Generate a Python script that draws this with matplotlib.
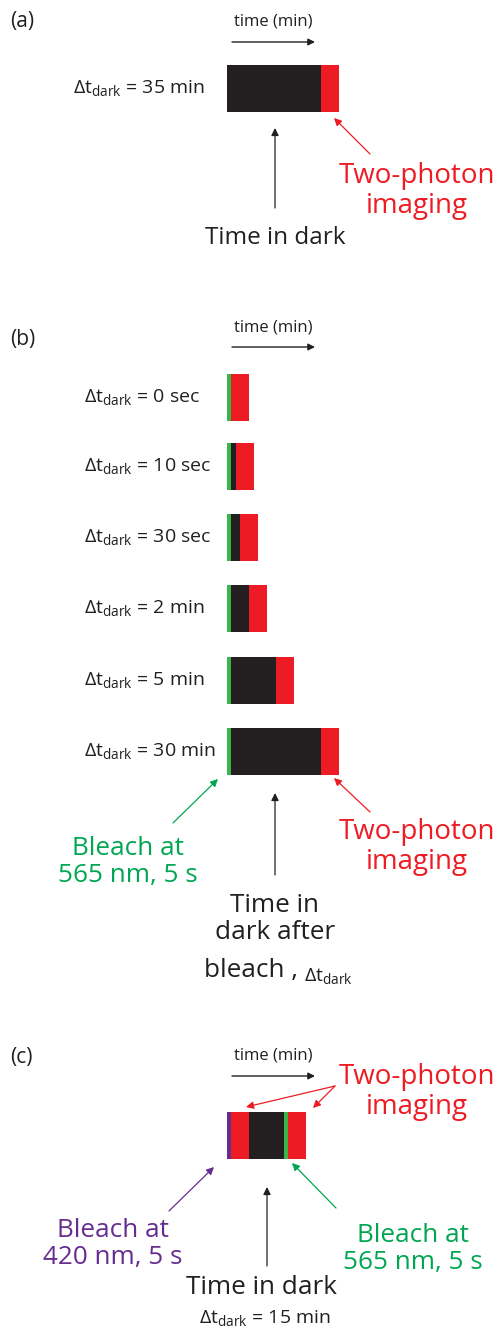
#!/usr/bin/env python3
"""Schematic of dark-time / bleach / two-photon imaging protocols (a)-(c)."""

import numpy as np
import matplotlib
matplotlib.use('Agg')
import matplotlib.pyplot as plt

plt.rcParams['font.family'] = ['Open Sans', 'DejaVu Sans']
plt.rcParams['mathtext.fontset'] = 'custom'
plt.rcParams['mathtext.rm'] = 'Open Sans'
plt.rcParams['mathtext.it'] = 'Open Sans'

BLACK = '#231f20'
RED = '#ed1c24'
GREEN_BAR = '#39b54a'
GREEN_TXT = '#00a651'
PURPLE = '#662d91'
SEG_COLORS = {'dark': BLACK, 'img': RED, 'g': GREEN_BAR, 'p': PURPLE}

# schematic widths of each step on the time axis (not to scale)
bleach_w = 4.3
imaging_w = 18
a_dark_w = 94
b_labels = ['0 sec', '10 sec', '30 sec', '2 min', '5 min', '30 min']
b_dark_w = [0, 4.5, 9, 18, 44.5, 90]
c_steps = ['p', 'img', 'dark', 'g', 'img']
c_widths = [4.3, 18, 35, 4, 18]

fig = plt.figure(figsize=(4.95, 13.3), dpi=100)
ax = fig.add_axes([0, 0, 1, 1])
ax.set_xlim(0, 495)
ax.set_ylim(1330, 0)
ax.axis('off')

X0 = 227
BAR_H = 47
BIG = 18.8
LBL = 14


def draw_bar(yc, steps, widths):
    left = X0
    for s, w in zip(steps, widths):
        if w > 0:
            ax.barh(yc, w, left=left, height=BAR_H, color=SEG_COLORS[s], linewidth=0)
        left += w


def arrow(x0, y0, x1, y1, color=BLACK, lw=0.9, ms=11):
    ax.annotate('', xy=(x1, y1), xytext=(x0, y0),
                arrowprops=dict(arrowstyle='-|>', color=color, lw=lw,
                                mutation_scale=ms, shrinkA=0, shrinkB=0))


def time_axis(y_txt, y_arr):
    ax.text(273, y_txt, 'time (min)', ha='center', va='center', fontsize=12, color=BLACK)
    arrow(232, y_arr, 315, y_arr, lw=1.0, ms=10)


def dt_label(x, y, value, ha='left', size=LBL):
    s = r'Δt$_\mathregular{dark}$'
    if value:
        s += ' = ' + value
    ax.text(x, y, s, ha=ha, va='center', fontsize=size, color=BLACK)


# ---- panel (a)
ax.text(10, 21, '(a)', ha='left', va='center', fontsize=15, color=BLACK)
time_axis(22, 42)
draw_bar(88, ['dark', 'img'], [a_dark_w, imaging_w])
dt_label(205, 88, '35 min', ha='right')
arrow(275, 208, 275, 128)
arrow(370, 154, 334, 118, color=RED)
ax.text(417, 191, 'Two-photon\nimaging', ha='center', va='center', fontsize=20,
        color=RED, linespacing=1.1)
ax.text(275, 238, 'Time in dark', ha='center', va='center', fontsize=17.5, color=BLACK)

# ---- panel (b)
ax.text(10, 340, '(b)', ha='left', va='center', fontsize=15, color=BLACK)
time_axis(328, 347)
b_y = [397, 466, 537, 608, 680, 751]
for yc, lab, dw in zip(b_y, b_labels, b_dark_w):
    draw_bar(yc, ['g', 'dark', 'img'], [bleach_w, dw, imaging_w])
    dt_label(84, yc, lab)
arrow(173, 823, 218, 779, color=GREEN_TXT)
arrow(275, 875, 275, 793)
arrow(370, 812, 334, 778, color=RED)
ax.text(128, 862, 'Bleach at\n565 nm, 5 s', ha='center', va='center', fontsize=BIG,
        color=GREEN_TXT, linespacing=1.1)
ax.text(417, 847, 'Two-photon\nimaging', ha='center', va='center', fontsize=20,
        color=RED, linespacing=1.1)
ax.text(275, 919, 'Time in\ndark after', ha='center', va='center', fontsize=BIG,
        color=BLACK, linespacing=1.1)
ax.text(204, 971, 'bleach ,', ha='left', va='center', fontsize=BIG, color=BLACK)
dt_label(304, 976, '', size=LBL)

# ---- panel (c)
ax.text(10, 1057, '(c)', ha='left', va='center', fontsize=15, color=BLACK)
time_axis(1055, 1076)
draw_bar(1135, c_steps, c_widths)
ax.text(417, 1092, 'Two-photon\nimaging', ha='center', va='center', fontsize=20,
        color=RED, linespacing=1.1)
arrow(335, 1086, 246, 1107, color=RED)
arrow(335, 1086, 313, 1108, color=RED)
arrow(169, 1211, 214, 1167, color=PURPLE)
arrow(336, 1208, 292, 1163, color=GREEN_TXT)
arrow(267, 1266, 267, 1187)
ax.text(113, 1244, 'Bleach at\n420 nm, 5 s', ha='center', va='center', fontsize=BIG,
        color=PURPLE, linespacing=1.1)
ax.text(413, 1249, 'Bleach at\n565 nm, 5 s', ha='center', va='center', fontsize=BIG,
        color=GREEN_TXT, linespacing=1.1)
ax.text(262, 1288, 'Time in dark', ha='center', va='center', fontsize=BIG, color=BLACK)
dt_label(265, 1318, '15 min', ha='center')

fig.savefig('out.png', dpi=100)
plt.close(fig)
